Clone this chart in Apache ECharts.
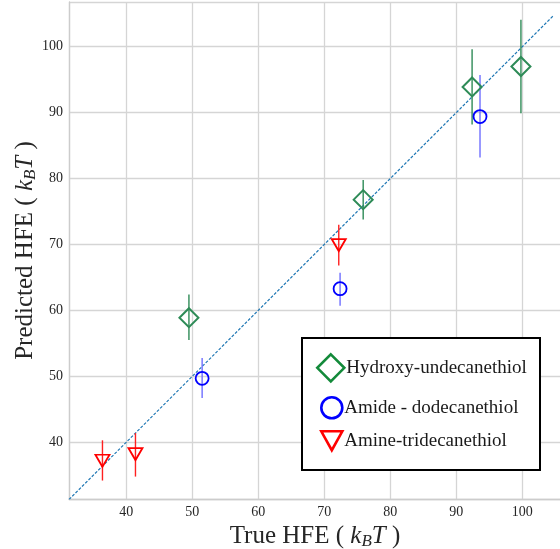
<!DOCTYPE html>
<html>
<head>
<meta charset="utf-8">
<script src="https://cdn.jsdelivr.net/npm/echarts@6/dist/echarts.min.js"></script>
<style>
  html, body { margin: 0; padding: 0; background: #fff; }
  #chart { width: 560px; height: 549px; }
</style>
</head>
<body>
<div id="chart"></div>
<script>
// data: [true, predicted] and error bars [true, low, high]
var hydroxyPts = [[49.5, 58.9], [75.9, 76.8], [92.4, 93.9], [99.8, 97.0]];
var hydroxyErr = [[49.5, 55.5, 62.4], [75.9, 73.8, 79.8], [92.4, 88.2, 99.6], [99.8, 89.9, 104.1]];
var amidePts = [[51.5, 49.7], [72.4, 63.3], [93.6, 89.4]];
var amideErr = [[51.5, 46.7, 52.8], [72.4, 60.7, 65.7], [93.6, 83.2, 95.7]];
var aminePts = [[36.4, 37.2], [41.4, 38.2], [72.2, 69.9]];
var amineErr = [[36.4, 34.2, 40.3], [41.4, 34.8, 41.4], [72.2, 66.8, 73.0]];
var diagonal = [[31.33, 31.33], [104.7, 104.7]];

var names = ['Hydroxy-undecanethiol', 'Amide - dodecanethiol', 'Amine-tridecanethiol'];

var serif = 'Liberation Serif';
var triangleDown = 'path://M0,0L20,0L10,18Z';
var myChart = echarts.init(document.getElementById('chart'));

function errorSeries(data, color) {
  return {
    type: 'custom',
    silent: true,
    z: 3,
    data: data,
    renderItem: function (params, api) {
      var p1 = api.coord([api.value(0), api.value(1)]);
      var p2 = api.coord([api.value(0), api.value(2)]);
      return {
        type: 'line',
        shape: { x1: p1[0], y1: p1[1], x2: p2[0], y2: p2[1] },
        style: { stroke: color, lineWidth: 1.4 }
      };
    }
  };
}

// one legend per entry so each icon gets its own size
function legendEntry(name, icon, size, left, top, color) {
  return {
    orient: 'vertical',
    left: left,
    top: top,
    padding: 0,
    z: 10,
    itemWidth: size,
    itemHeight: size,
    selectedMode: false,
    data: [{
      name: name,
      icon: icon,
      itemStyle: { color: 'rgba(255,255,255,0)', borderColor: color, borderWidth: 2.6, opacity: 1 }
    }],
    textStyle: { fontFamily: serif, fontSize: 19, color: '#1a1a1a', padding: [0, 0, 0, -3] }
  };
}

var titleRich = {
  n: { fontFamily: serif, fontSize: 25, color: '#262626' },
  i: { fontFamily: serif, fontSize: 25, fontStyle: 'italic', color: '#262626' },
  s: { fontFamily: serif, fontSize: 17, fontStyle: 'italic', color: '#262626', padding: [10, 0, 0, 0] }
};

var option = {
  animation: false,
  backgroundColor: '#fff',
  grid: { left: 69, right: -1, top: 2, bottom: 50, containLabel: false, outerBoundsMode: 'none' },
  xAxis: {
    type: 'value',
    min: 31.33,
    max: 105.87,
    splitNumber: 7,
    name: '{n|True HFE ( }{i|k}{s|B}{i|T}{n| )}',
    nameLocation: 'middle',
    nameGap: 19,
    nameTextStyle: { rich: titleRich },
    axisLine: { show: true, lineStyle: { color: '#cccccc', width: 1.3 } },
    axisTick: { show: false },
    axisLabel: {
      showMinLabel: false, showMaxLabel: false, margin: 6,
      fontFamily: serif, fontSize: 14, color: '#262626'
    },
    splitLine: { show: true, lineStyle: { color: '#d5d5d5', width: 1.3 } }
  },
  yAxis: {
    type: 'value',
    min: 31.4,
    max: 106.78,
    splitNumber: 8,
    name: '{n|Predicted HFE ( }{i|k}{s|B}{i|T}{n| )}',
    nameLocation: 'middle',
    nameGap: 30,
    nameMoveOverlap: false,
    nameTextStyle: { rich: titleRich },
    axisLine: { show: true, lineStyle: { color: '#cccccc', width: 1.3 } },
    axisTick: { show: false },
    axisLabel: {
      showMinLabel: false, showMaxLabel: false, margin: 6,
      fontFamily: serif, fontSize: 14, color: '#262626'
    },
    splitLine: { show: true, lineStyle: { color: '#d5d5d5', width: 1.3 } }
  },
  graphic: [{
    type: 'rect',
    z: 5,
    shape: { x: 302, y: 338, width: 238, height: 132 },
    style: { fill: '#fff', stroke: '#000', lineWidth: 2 }
  }],
  legend: [
    legendEntry(names[0], 'diamond', 27, 316, 353, '#138a3a'),
    legendEntry(names[1], 'circle', 21, 320, 396, '#0000ff'),
    legendEntry(names[2], triangleDown, 21, 320, 430, '#ff0000')
  ],
  series: [
    {
      type: 'line',
      data: diagonal,
      showSymbol: false,
      silent: true,
      z: 1,
      lineStyle: { color: '#1f77b4', width: 1.2, type: [3, 1.6] }
    },
    errorSeries(hydroxyErr, '#2e8b57'),
    errorSeries(amideErr, '#6f6fff'),
    errorSeries(amineErr, '#ff2020'),
    {
      name: names[0],
      type: 'scatter',
      symbol: 'diamond',
      symbolSize: 19,
      z: 4,
      data: hydroxyPts,
      itemStyle: { color: 'rgba(255,255,255,0)', borderColor: '#2e8b57', borderWidth: 2, opacity: 1 }
    },
    {
      name: names[1],
      type: 'scatter',
      symbol: 'circle',
      symbolSize: 13,
      z: 4,
      data: amidePts,
      itemStyle: { color: 'rgba(255,255,255,0)', borderColor: '#0000ff', borderWidth: 1.8, opacity: 1 }
    },
    {
      name: names[2],
      type: 'scatter',
      symbol: 'triangle',
      symbolRotate: 180,
      symbolSize: [14, 12],
      z: 4,
      data: aminePts,
      itemStyle: { color: 'rgba(255,255,255,0)', borderColor: '#ff0000', borderWidth: 1.8, opacity: 1 }
    }
  ]
};

myChart.setOption(option);
</script>
</body>
</html>
